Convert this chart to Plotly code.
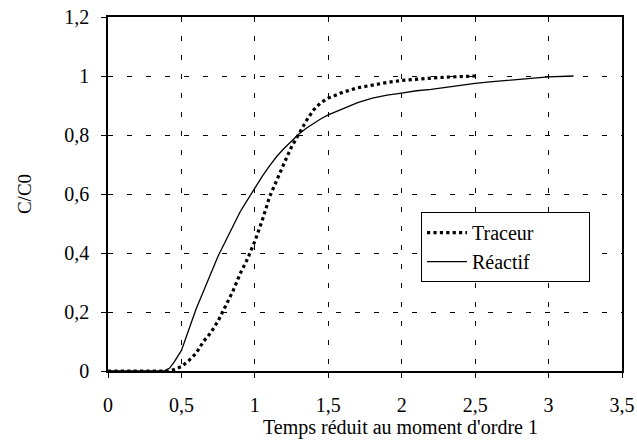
import plotly.graph_objects as go

# Courbe du traceur (pointillés)
traceur_x = [0, 0.42, 0.45, 0.5, 0.55, 0.6, 0.65, 0.7, 0.75, 0.8, 0.85, 0.9, 0.95,
             1.0, 1.05, 1.1, 1.15, 1.2, 1.25, 1.3, 1.35, 1.4, 1.45, 1.5, 1.6, 1.7,
             1.8, 1.9, 2.0, 2.1, 2.2, 2.3, 2.4, 2.5]
traceur_y = [0, 0, 0.005, 0.015, 0.035, 0.06, 0.1, 0.13, 0.17, 0.22, 0.27, 0.33, 0.38,
             0.44, 0.51, 0.59, 0.65, 0.705, 0.76, 0.805, 0.848, 0.885, 0.91, 0.925, 0.945,
             0.96, 0.97, 0.978, 0.985, 0.99, 0.993, 0.996, 0.998, 1.0]

# Courbe du réactif (trait plein)
reactif_x = [0, 0.38, 0.42, 0.45, 0.5, 0.55, 0.6, 0.65, 0.7, 0.75, 0.8, 0.85, 0.9, 0.95,
             1.0, 1.05, 1.1, 1.15, 1.2, 1.25, 1.3, 1.35, 1.4, 1.45, 1.5, 1.6, 1.7, 1.8,
             1.9, 2.0, 2.1, 2.2, 2.3, 2.4, 2.5, 2.6, 2.7, 2.8, 2.9, 3.0, 3.1, 3.17]
reactif_y = [0, 0, 0.01, 0.03, 0.07, 0.14, 0.21, 0.27, 0.33, 0.39, 0.44, 0.49, 0.54, 0.58,
             0.62, 0.66, 0.695, 0.728, 0.755, 0.78, 0.803, 0.823, 0.84, 0.855, 0.868, 0.89,
             0.91, 0.925, 0.935, 0.942, 0.95, 0.955, 0.962, 0.968, 0.975, 0.98, 0.985,
             0.99, 0.993, 0.997, 1.0, 1.0]

x_ticks = [0, 0.5, 1, 1.5, 2, 2.5, 3, 3.5]
x_labels = ["0", "0,5", "1", "1,5", "2", "2,5", "3", "3,5"]
y_ticks = [0, 0.2, 0.4, 0.6, 0.8, 1.0, 1.2]
y_labels = ["0", "0,2", "0,4", "0,6", "0,8", "1", "1,2"]

FONT = "Times New Roman, Liberation Serif, serif"
PAD = "\u00a0" * 10  # élargit le cadre de la légende

fig = go.Figure()

fig.add_trace(go.Scatter(
    x=traceur_x, y=traceur_y, mode="lines", name="Traceur" + PAD,
    line=dict(color="black", width=3.2, dash="dot")
))
fig.add_trace(go.Scatter(
    x=reactif_x, y=reactif_y, mode="lines", name="Réactif" + PAD,
    line=dict(color="black", width=1.3)
))

fig.update_layout(
    width=637,
    height=441,
    font=dict(family=FONT, size=20, color="black"),
    plot_bgcolor="white",
    paper_bgcolor="white",
    margin=dict(t=17, b=70, l=108, r=15),
    showlegend=True,
    legend=dict(
        x=0.609, y=0.449, xanchor="left", yanchor="top",
        bgcolor="white", bordercolor="black", borderwidth=1,
        font=dict(family=FONT, size=20),
        tracegroupgap=0, itemwidth=40
    )
)

fig.add_annotation(
    text="Temps réduit au moment d'ordre 1",
    xref="paper", yref="paper", x=0.57, y=-0.16,
    xanchor="center", yanchor="middle", showarrow=False,
    font=dict(family=FONT, size=20)
)

fig.update_xaxes(
    range=[0, 3.5], automargin=False,
    tickvals=x_ticks, ticktext=x_labels,
    showline=True, linecolor="black", linewidth=1.5, mirror=True,
    ticks="outside", ticklen=5, tickcolor="black",
    ticklabelstandoff=10,
    showgrid=True, gridcolor="black", gridwidth=1, griddash="5px,14px",
    zeroline=False,
    tickfont=dict(family=FONT, size=20)
)
fig.update_yaxes(
    range=[0, 1.2], automargin=False,
    tickvals=y_ticks, ticktext=y_labels,
    showline=True, linecolor="black", linewidth=1.5, mirror=True,
    ticks="outside", ticklen=5, tickcolor="black",
    ticklabelstandoff=8,
    showgrid=True, gridcolor="black", gridwidth=1, griddash="5px,14px",
    zeroline=False,
    title=dict(text="C/C0", font=dict(family=FONT, size=19), standoff=28),
    tickfont=dict(family=FONT, size=20)
)

# la page a une marge de 8 px par défaut : on la supprime
fig.write_html("out.html", config={"displayModeBar": False},
               post_script="document.body.style.margin='0';")
